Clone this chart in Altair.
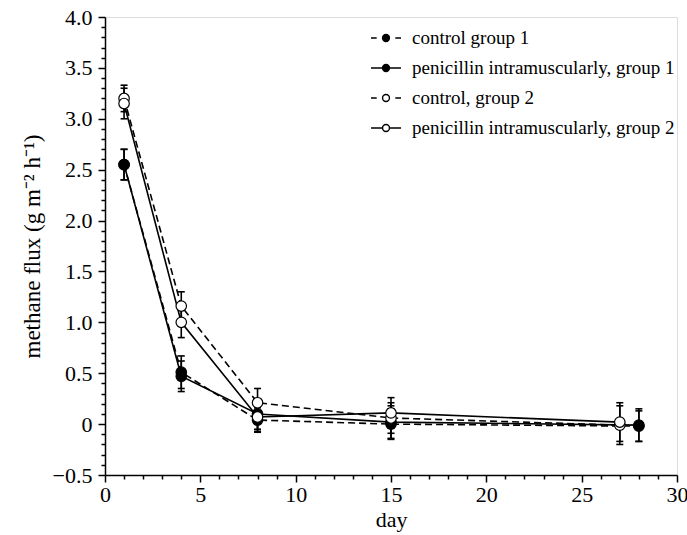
import altair as alt
import pandas as pd

series_names = [
    "control group 1",
    "penicillin intramuscularly, group 1",
    "control, group 2",
    "penicillin intramuscularly, group 2",
]
dashed_series = [series_names[0], series_names[2]]
solid_series = [series_names[1], series_names[3]]

days_g1 = [1, 4, 8, 15, 28]
days_g2 = [1, 4, 8, 15, 27]

control1 = [2.55, 0.51, 0.04, 0.00, -0.02]
control1_err = [0.15, 0.16, 0.12, 0.15, 0.15]
pen1 = [2.55, 0.47, 0.10, 0.02, -0.01]
pen1_err = [0.15, 0.15, 0.15, 0.16, 0.16]
control2 = [3.20, 1.16, 0.21, 0.06, -0.01]
control2_err = [0.13, 0.14, 0.14, 0.15, 0.19]
pen2 = [3.15, 1.00, 0.07, 0.11, 0.02]
pen2_err = [0.15, 0.15, 0.14, 0.15, 0.19]

x_ticks = list(range(0, 31))
y_ticks = [round(-0.5 + 0.1 * i, 1) for i in range(46)]

rows = []
for name, days, vals, errs in [
    (series_names[0], days_g1, control1, control1_err),
    (series_names[1], days_g1, pen1, pen1_err),
    (series_names[2], days_g2, control2, control2_err),
    (series_names[3], days_g2, pen2, pen2_err),
]:
    for d, v, e in zip(days, vals, errs):
        rows.append({"series": name, "day": d, "flux": v, "lo": v - e, "hi": v + e})
df = pd.DataFrame(rows)

FONT = "Liberation Serif"

x_scale = alt.Scale(domain=[0, 30], nice=False, zero=False)
y_scale = alt.Scale(domain=[-0.5, 4.0], nice=False, zero=False)

major_y = "abs(datum.value*2 - round(datum.value*2)) < 0.001"

x_axis = alt.Axis(
    values=x_ticks, tickCount=200,
    tickSize={"condition": {"test": "datum.value % 5 === 0", "value": 7}, "value": 4},
    labelExpr="datum.value % 5 === 0 ? format(datum.value, 'd') : ''",
    grid=False,
    domainColor="black", tickColor="black", domainWidth=1.5, tickWidth=1.5,
    labelFont=FONT, labelFontSize=22, labelColor="black", labelPadding=2,
    labelFlush=False, labelOverlap=False,
    title="day", titleFont=FONT, titleFontSize=22, titleFontWeight="normal",
    titleColor="black", titlePadding=4,
)
y_axis = alt.Axis(
    values=y_ticks, tickCount=200,
    tickSize={"condition": {"test": major_y, "value": 7}, "value": 4},
    labelExpr=major_y + " ? (abs(datum.value) < 0.001 ? '0' : format(datum.value, '.1f')) : ''",
    grid=False,
    domainColor="black", tickColor="black", domainWidth=1.5, tickWidth=1.5,
    labelFont=FONT, labelFontSize=22, labelColor="black", labelPadding=6,
    labelFlush=False, labelOverlap=False,
    title="methane flux (g m⁻² h⁻¹)", titleFont=FONT, titleFontSize=23,
    titleFontWeight="normal", titleColor="black", titlePadding=8,
)

base = alt.Chart(df)
X = alt.X("day:Q", scale=x_scale, axis=x_axis)
Y = alt.Y("flux:Q", scale=y_scale, axis=y_axis)

lines_dashed = base.transform_filter(
    alt.FieldOneOfPredicate(field="series", oneOf=dashed_series)
).mark_line(color="black", strokeWidth=1.6, strokeDash=[7, 4]).encode(
    x=X, y=Y, detail="series:N"
)
lines_solid = base.transform_filter(
    alt.FieldOneOfPredicate(field="series", oneOf=solid_series)
).mark_line(color="black", strokeWidth=1.6).encode(
    x=X, y=Y, detail="series:N"
)

err_rule = base.mark_rule(color="black", strokeWidth=1.6).encode(
    x=X, y=alt.Y("lo:Q", scale=y_scale, axis=y_axis), y2="hi:Q"
)
cap_lo = base.mark_tick(orient="horizontal", color="black", size=7, thickness=1.6, opacity=1).encode(
    x=X, y=alt.Y("lo:Q", scale=y_scale, axis=y_axis)
)
cap_hi = base.mark_tick(orient="horizontal", color="black", size=7, thickness=1.6, opacity=1).encode(
    x=X, y=alt.Y("hi:Q", scale=y_scale, axis=y_axis)
)

fill_scale = alt.Scale(domain=series_names, range=["black", "black", "white", "white"])

points = base.mark_point(filled=True, size=110, stroke="black", strokeWidth=1.2, opacity=1).encode(
    x=X, y=Y,
    fill=alt.Fill("series:N", scale=fill_scale, legend=None),
)

circ = "M-0.23,0A0.23,0.23,0,1,1,0.23,0A0.23,0.23,0,1,1,-0.23,0Z"
path_dash = "M-1,0L-0.62,0M0.62,0L1,0" + circ
path_solid = "M-1,0L-0.23,0M0.23,0L1,0" + circ

leg = alt.Legend(
    orient="none", legendX=265, legendY=5, title=None,
    labelFont=FONT, labelFontSize=19, labelColor="black", labelLimit=500,
    labelOffset=10, symbolSize=900, symbolStrokeWidth=1.4,
    symbolOpacity=1, rowPadding=4,
)
legend_layer = base.mark_point(
    filled=True, opacity=0, strokeWidth=1.4, size=900
).encode(
    x=X, y=Y,
    fill=alt.Fill("series:N", scale=fill_scale, legend=leg),
    stroke=alt.Stroke(
        "series:N",
        scale=alt.Scale(domain=series_names, range=["black", "black", "black", "black"]),
        legend=leg,
    ),
    shape=alt.Shape(
        "series:N",
        scale=alt.Scale(domain=series_names, range=[path_dash, path_solid, path_dash, path_solid]),
        legend=leg,
    ),
)

chart = alt.layer(legend_layer, lines_dashed, lines_solid, err_rule, cap_lo, cap_hi, points).properties(
    width=572, height=458,
    autosize=alt.AutoSizeParams(type="none"),
    padding={"left": 105, "top": 17, "right": 10, "bottom": 60},
).configure_view(stroke=None).configure(background="white")

chart.save("out.html", embed_options={"renderer": "svg", "actions": False})
